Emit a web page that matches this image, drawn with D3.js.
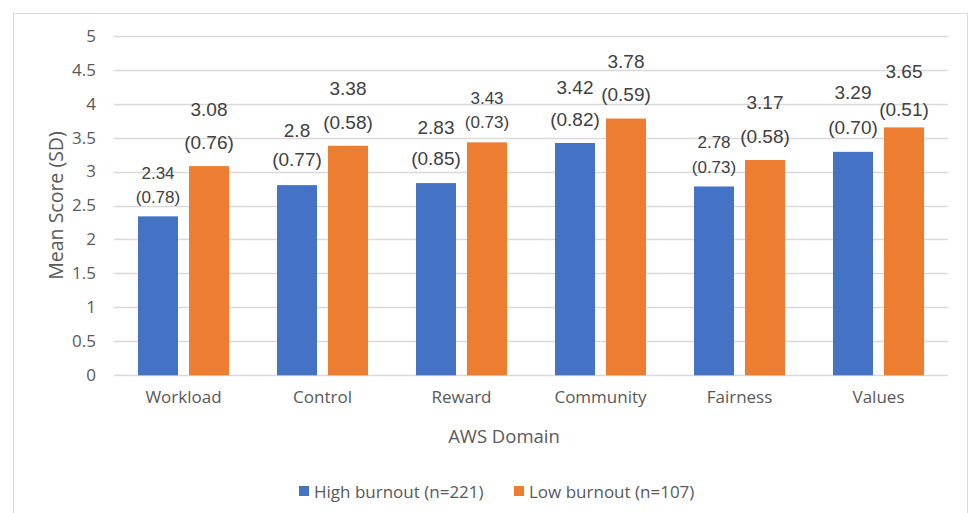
<!DOCTYPE html>
<html>
<head>
<meta charset="utf-8">
<script src="https://cdn.jsdelivr.net/npm/d3@7"></script>
<style>
  html, body { margin: 0; padding: 0; background: #ffffff; }
  svg { display: block; }
</style>
</head>
<body>
<script>
// AWS domain means (SD) by burnout group
const domains = ["Workload", "Control", "Reward", "Community", "Fairness", "Values"];
const seriesNames = ["High burnout (n=221)", "Low burnout (n=107)"];
const highMean = [2.34, 2.8, 2.83, 3.42, 2.78, 3.29];
const highSD = ["0.78", "0.77", "0.85", "0.82", "0.73", "0.70"];
const lowMean = [3.08, 3.38, 3.43, 3.78, 3.17, 3.65];
const lowSD = ["0.76", "0.58", "0.73", "0.59", "0.58", "0.51"];
const yTicks = [0, 0.5, 1, 1.5, 2, 2.5, 3, 3.5, 4, 4.5, 5];

const W = 972, H = 513;
const colors = ["#4472C4", "#ED7D31"];

// Label placement: vertical offsets (px) of the mean line and the SD line
// above each bar top, plus font size, per series and domain.
const labelLayout = [
  [[-43, -19, 17], [-55, -26, 19], [-56, -25, 19], [-56, -24, 19], [-44, -19, 17], [-59, -24, 19]],
  [[-57, -24, 19], [-57, -23, 19], [-44, -20, 17], [-57, -24, 19], [-57, -23, 19], [-56, -18, 19]]
];

const svg = d3.select("body").append("svg")
  .attr("width", W).attr("height", H);

svg.append("rect").attr("width", W).attr("height", H).attr("fill", "#ffffff");

// chart area border
svg.append("rect")
  .attr("x", 13.5).attr("y", 13.5)
  .attr("width", 954).attr("height", 520)
  .attr("fill", "none").attr("stroke", "#D9D9D9").attr("stroke-width", 1);

const plot = { left: 114, right: 948, top: 35.7, bottom: 375.3 };

const x = d3.scaleBand().domain(domains).range([plot.left, plot.right]).paddingInner(0).paddingOuter(0);
const barW = 40, barGap = 11;
const xs = d3.scaleOrdinal().domain([0, 1]).range([-(barGap / 2 + barW), barGap / 2]);

const y = d3.scaleLinear().domain([0, 5]).range([plot.bottom, plot.top]);

// gridlines
svg.append("g").selectAll("line").data(yTicks).join("line")
  .attr("x1", plot.left).attr("x2", plot.right)
  .attr("y1", d => Math.round(y(d)) + 0.5).attr("y2", d => Math.round(y(d)) + 0.5)
  .attr("stroke", "#D9D9D9").attr("stroke-width", 1.3);

// y axis tick labels
const yAxis = d3.axisLeft(y).tickValues(yTicks).tickSize(0).tickPadding(0)
  .tickFormat(d => String(d));
const gy = svg.append("g").attr("transform", `translate(96,0)`).call(yAxis);
gy.select(".domain").remove();
gy.selectAll("text")
  .attr("fill", "#595959")
  .style("font-family", "'Open Sans', sans-serif")
  .style("font-size", "17px");

// x axis category labels
const xAxis = d3.axisBottom(x).tickSize(0).tickPadding(0);
const gx = svg.append("g").attr("transform", `translate(0,391)`).call(xAxis);
gx.select(".domain").remove();
gx.selectAll("text")
  .attr("fill", "#595959")
  .style("font-family", "'Open Sans', sans-serif")
  .style("font-size", "17px");

// bars
const series = [highMean, lowMean];
const sds = [highSD, lowSD];
series.forEach((vals, s) => {
  svg.append("g").selectAll("rect").data(vals).join("rect")
    .attr("x", (d, i) => x(domains[i]) + x.bandwidth() / 2 + xs(s))
    .attr("width", barW)
    .attr("y", d => y(d))
    .attr("height", d => y(0) - y(d))
    .attr("fill", colors[s]);
});

// data labels: mean on the first line, (SD) on the second
series.forEach((vals, s) => {
  const g = svg.append("g")
    .style("font-family", "'Liberation Sans', Arial, sans-serif")
    .attr("fill", "#404040")
    .attr("text-anchor", "middle");
  vals.forEach((v, i) => {
    const cx = x(domains[i]) + x.bandwidth() / 2 + xs(s) + barW / 2;
    const [d1, d2, fs] = labelLayout[s][i];
    g.append("text")
      .attr("x", cx).attr("y", y(v) + d1)
      .attr("dominant-baseline", "central")
      .style("font-size", fs + "px")
      .text(String(v));
    g.append("text")
      .attr("x", cx).attr("y", y(v) + d2)
      .attr("dominant-baseline", "central")
      .style("font-size", fs + "px")
      .text("(" + sds[s][i] + ")");
  });
});

// axis titles
svg.append("text")
  .attr("transform", `translate(55,${(plot.top + plot.bottom) / 2}) rotate(-90)`)
  .attr("text-anchor", "middle").attr("dominant-baseline", "central")
  .attr("fill", "#595959")
  .style("font-family", "'Open Sans', sans-serif").style("font-size", "19.5px")
  .text("Mean Score (SD)");

svg.append("text")
  .attr("x", 504).attr("y", 435)
  .attr("text-anchor", "middle").attr("dominant-baseline", "central")
  .attr("fill", "#595959")
  .style("font-family", "'Open Sans', sans-serif").style("font-size", "18.5px")
  .text("AWS Domain");

// legend
const legend = svg.append("g");
const legendX = [299, 514];
seriesNames.forEach((name, s) => {
  legend.append("rect")
    .attr("x", legendX[s]).attr("y", 486)
    .attr("width", 10).attr("height", 10)
    .attr("fill", colors[s]);
  legend.append("text")
    .attr("x", legendX[s] + 15).attr("y", 491)
    .attr("dominant-baseline", "central")
    .attr("fill", "#595959")
    .style("font-family", "'Open Sans', sans-serif").style("font-size", "17px")
    .text(name);
});
</script>
</body>
</html>
